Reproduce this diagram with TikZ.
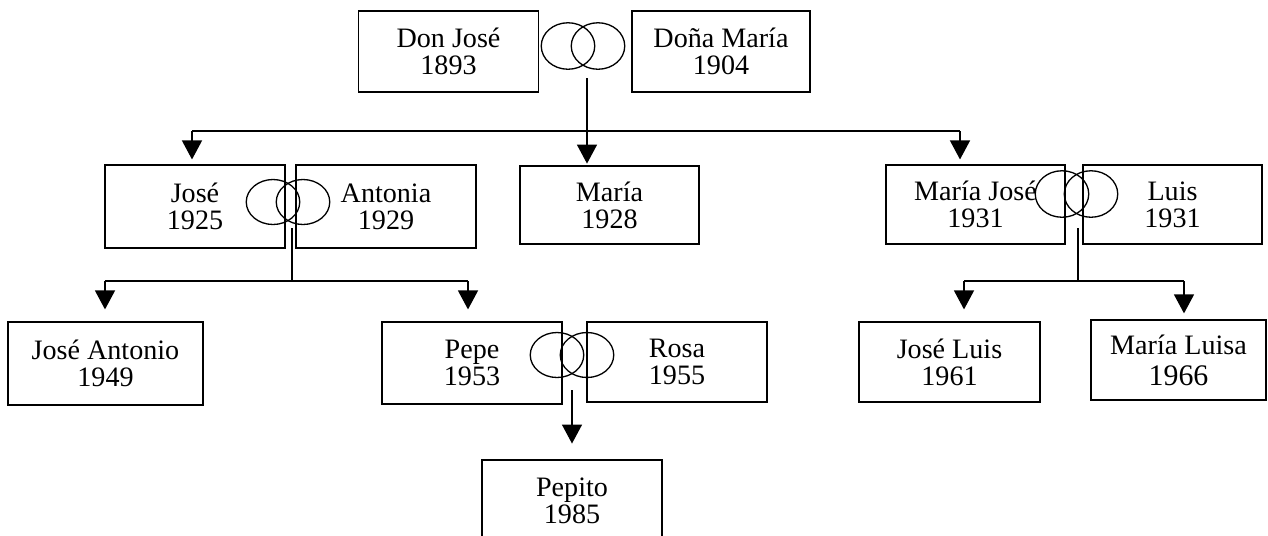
\documentclass[tikz,border=0pt]{standalone}
\usepackage{fontspec}
\setmainfont{Liberation Serif}
\usetikzlibrary{arrows.meta, positioning, calc, shapes.geometric}

\begin{document}
\begin{tikzpicture}[
        x=0.02cm, y=-0.02cm,
        person/.style={rectangle, draw=black, line width=0.75pt, minimum width=3.6cm, minimum height=1.62cm, align=center, inner sep=0pt, font=\fontsize{16}{15.5}\selectfont},
        ring/.style={ellipse, draw=black, line width=0.75pt, minimum width=1.07cm, minimum height=0.93cm, inner sep=0pt},
        arrow/.style={-{Triangle[length=10.8pt, width=11.4pt]}, line width=0.7pt},
        link/.style={line width=0.7pt}
    ]
        \useasboundingbox (0,0) rectangle (1268,535);

        % Nodes
        \node[person] (donjose) at (448.5,51.5) {Don José\\1893};
        \node[person, minimum width=3.56cm] (donamaria) at (721,51.5) {Doña María\\1904};
        \node[ring] (r1a) at (568,46) {};
        \node[ring] (r1b) at (598,46) {};

        \node[person, minimum height=1.66cm] (jose) at (195,206.5) {José\\1925};
        \node[person, minimum height=1.66cm] (antonia) at (386,206.5) {Antonia\\1929};
        \node[ring, minimum height=0.9cm] (r2a) at (273,202) {};
        \node[ring, minimum height=0.9cm] (r2b) at (303,202) {};
        \node[person, minimum width=3.58cm, minimum height=1.56cm] (maria) at (609.5,205) {María\\1928};
        \node[person, minimum width=3.58cm, minimum height=1.58cm] (mariajose) at (975.5,204.5) {María José\\1931};
        \node[person, minimum width=3.58cm, minimum height=1.58cm] (luis) at (1172.5,204.5) {Luis\\1931};
        \node[ring] (r3a) at (1062,194) {};
        \node[ring] (r3b) at (1091,194) {};

        \node[person, minimum width=3.9cm, minimum height=1.66cm] (joseantonio) at (105.5,363.5) {José Antonio\\1949};
        \node[person, minimum height=1.64cm] (pepe) at (472,363) {Pepe\\1953};
        \node[person, minimum height=1.6cm] (rosa) at (677,362) {Rosa\\1955};
        \node[ring, minimum height=0.9cm] (r4a) at (557,355) {};
        \node[ring, minimum height=0.9cm] (r4b) at (587,355) {};
        \node[person, minimum width=3.62cm, minimum height=1.6cm] (joseluis) at (949.5,362) {José Luis\\1961};
        \node[person, minimum width=3.5cm, minimum height=1.6cm] (marialuisa) at (1178.5,360) {María Luisa\\[2pt]{\fontsize{17}{17}\selectfont 1966}};

        \node[person, minimum height=1.64cm] (pepito) at (572,501) {Pepito\\1985};

        % Forks
        \coordinate (c1) at (587,78);
        \coordinate (f1l) at (192,131);
        \coordinate (f1r) at (960,131);
        \coordinate (c2) at (292,228);
        \coordinate (f2l) at (105,281);
        \coordinate (f2r) at (468,281);
        \coordinate (c3) at (1078,228);
        \coordinate (f3l) at (964,281);
        \coordinate (f3r) at (1184,281);
        \coordinate (c4) at (572,390);

        % Arrows
        \draw[arrow, shorten >=1pt] (c1) -- (c1 |- maria.north);
        \draw[link] (f1l) -- (f1r);
        \draw[arrow, shorten >=2.8pt] (f1l) -- (f1l |- jose.north);
        \draw[arrow, shorten >=2.8pt] (f1r) -- (f1r |- mariajose.north);

        \draw[link] (c2) -- (c2 |- f2l);
        \draw[link] (f2l) -- (f2r);
        \draw[arrow, shorten >=6.8pt] (f2l) -- (f2l |- joseantonio.north);
        \draw[arrow, shorten >=6.8pt] (f2r) -- (f2r |- pepe.north);

        \draw[link] (c3) -- (c3 |- f3l);
        \draw[link] (f3l) -- (f3r);
        \draw[arrow, shorten >=6.8pt] (f3l) -- (f3l |- joseluis.north);
        \draw[arrow, shorten >=3.4pt] (f3r) -- (f3r |- marialuisa.north);

        \draw[arrow, shorten >=9pt] (c4) -- (c4 |- pepito.north);

    \end{tikzpicture}
\end{document}
